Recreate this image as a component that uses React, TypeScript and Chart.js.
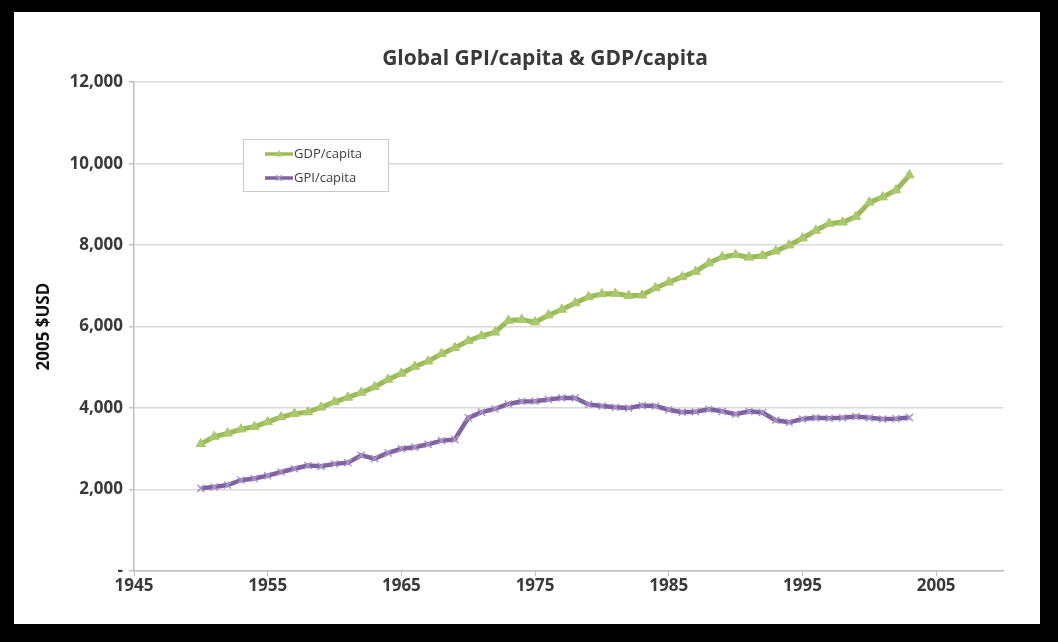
import React, { useEffect, useRef } from 'react';
import { Chart, registerables } from 'chart.js';

Chart.register(...registerables);

const years = [
  1950, 1951, 1952, 1953, 1954, 1955, 1956, 1957, 1958, 1959,
  1960, 1961, 1962, 1963, 1964, 1965, 1966, 1967, 1968, 1969,
  1970, 1971, 1972, 1973, 1974, 1975, 1976, 1977, 1978, 1979,
  1980, 1981, 1982, 1983, 1984, 1985, 1986, 1987, 1988, 1989,
  1990, 1991, 1992, 1993, 1994, 1995, 1996, 1997, 1998, 1999,
  2000, 2001, 2002, 2003,
];

const gdpPerCapita = [
  3120, 3300, 3380, 3480, 3540, 3660, 3780, 3860, 3900, 4020,
  4150, 4260, 4380, 4520, 4700, 4850, 5020, 5150, 5330, 5480,
  5650, 5770, 5860, 6150, 6170, 6110, 6280, 6420, 6580, 6730,
  6800, 6810, 6760, 6770, 6950, 7090, 7220, 7350, 7560, 7710,
  7760, 7700, 7740, 7850, 8000, 8170, 8360, 8530, 8560, 8700,
  9050, 9180, 9350, 9720,
];

const gpiPerCapita = [
  2030, 2060, 2110, 2230, 2270, 2340, 2430, 2510, 2590, 2570,
  2630, 2660, 2840, 2760, 2900, 3000, 3040, 3110, 3200, 3230,
  3760, 3900, 3980, 4100, 4160, 4170, 4210, 4250, 4250, 4090,
  4050, 4020, 4000, 4060, 4050, 3960, 3900, 3910, 3970, 3920,
  3850, 3920, 3890, 3700, 3650, 3730, 3760, 3750, 3760, 3790,
  3760, 3730, 3740, 3770,
];

const xTickValues = [1945, 1955, 1965, 1975, 1985, 1995, 2005];
const xMin = 1945;
const xMax = 2010;
const yMin = 0;
const yMax = 12000;
const yStep = 2000;

const seriesLabels = ['GDP/capita', 'GPI/capita'];
const chartTitle = 'Global GPI/capita & GDP/capita';
const yAxisTitle = '2005 $USD';

const FONT = "'Open Sans', 'Noto Sans', sans-serif";
const GREEN = '#9bbb59';
const PURPLE = '#7f62a0';

const titleShiftPlugin = {
  id: 'titleShift',
  afterLayout(chart: any) {
    const t = chart.titleBlock;
    if (t) {
      const desiredCenter = 531;
      const cur = (t.left + t.right) / 2;
      const d = desiredCenter - cur;
      t.left += d;
      t.right += d;
    }
  },
};

function drawMarker(ctx: CanvasRenderingContext2D, style: string, x: number, y: number, r: number, color: string) {
  ctx.save();
  ctx.fillStyle = color;
  ctx.strokeStyle = color;
  ctx.lineWidth = 1.5;
  if (style === 'triangle') {
    ctx.beginPath();
    ctx.moveTo(x, y - r);
    ctx.lineTo(x + r * 0.9, y + r * 0.6);
    ctx.lineTo(x - r * 0.9, y + r * 0.6);
    ctx.closePath();
    ctx.fill();
  } else {
    ctx.beginPath();
    ctx.moveTo(x - r * 0.7, y - r * 0.7);
    ctx.lineTo(x + r * 0.7, y + r * 0.7);
    ctx.moveTo(x + r * 0.7, y - r * 0.7);
    ctx.lineTo(x - r * 0.7, y + r * 0.7);
    ctx.stroke();
  }
  ctx.restore();
}

const customLegendPlugin = {
  id: 'customLegend',
  afterDraw(chart: any) {
    const ctx: CanvasRenderingContext2D = chart.ctx;
    const box = { left: 229, top: 127, width: 145, height: 52 };
    ctx.save();
    ctx.fillStyle = '#ffffff';
    ctx.fillRect(box.left, box.top, box.width, box.height);
    ctx.strokeStyle = '#c8c8c8';
    ctx.lineWidth = 1;
    ctx.strokeRect(box.left + 0.5, box.top + 0.5, box.width, box.height);
    chart.data.datasets.forEach((ds: any, i: number) => {
      const y = box.top + 15 + i * 24;
      const x0 = box.left + 22;
      const x1 = box.left + 50;
      ctx.strokeStyle = ds.borderColor;
      ctx.lineWidth = 3.5;
      ctx.beginPath();
      ctx.moveTo(x0, y);
      ctx.lineTo(x1, y);
      ctx.stroke();
      drawMarker(ctx, ds.pointStyle, (x0 + x1) / 2, y, 4, ds.pointBorderColor);
      ctx.fillStyle = '#404040';
      ctx.font = `13px ${FONT}`;
      ctx.textBaseline = 'middle';
      ctx.textAlign = 'left';
      ctx.fillText(ds.label, x1 + 1, y);
    });
    ctx.restore();
  },
};

export default function App() {
  const canvasRef = useRef<HTMLCanvasElement | null>(null);

  useEffect(() => {
    if (!canvasRef.current) return;
    const chart = new Chart(canvasRef.current, {
      type: 'line',
      data: {
        datasets: [
          {
            label: seriesLabels[0],
            data: years.map((yr, i) => ({ x: yr, y: gdpPerCapita[i] })),
            borderColor: GREEN,
            backgroundColor: GREEN,
            borderWidth: 5,
            pointStyle: 'triangle',
            pointRadius: 5.5,
            pointBorderWidth: 1,
            pointBackgroundColor: '#aac86c',
            pointBorderColor: '#aac86c',
            tension: 0,
          },
          {
            label: seriesLabels[1],
            data: years.map((yr, i) => ({ x: yr, y: gpiPerCapita[i] })),
            borderColor: PURPLE,
            backgroundColor: PURPLE,
            borderWidth: 4.5,
            pointStyle: 'crossRot',
            pointRadius: 5,
            pointBorderWidth: 1.5,
            pointBackgroundColor: '#a995c8',
            pointBorderColor: '#a995c8',
            tension: 0,
          },
        ],
      },
      options: {
        responsive: false,
        animation: false,
        layout: { padding: { left: 0, right: 37, top: 0, bottom: 0 } },
        plugins: {
          legend: { display: false },
          tooltip: { enabled: false },
          title: {
            display: true,
            text: chartTitle,
            color: '#3a3a3a',
            font: { family: FONT, size: 21, weight: 'bold' },
            padding: { top: 34, bottom: 11 },
          },
        },
        scales: {
          x: {
            type: 'linear',
            min: xMin,
            max: xMax,
            afterBuildTicks: (scale: any) => {
              scale.ticks = xTickValues.map((v) => ({ value: v }));
            },
            afterFit: (scale: any) => {
              scale.height = 53;
            },
            grid: {
              drawOnChartArea: false,
              drawTicks: true,
              tickLength: 5,
              color: '#bfbfbf',
            },
            border: { display: true, color: '#bfbfbf', width: 1.5 },
            ticks: {
              color: '#3a3a3a',
              font: { family: FONT, size: 17, weight: 'bold' },
              padding: 0,
              maxRotation: 0,
              autoSkip: false,
              callback: (v: any) => String(v),
            },
          },
          y: {
            type: 'linear',
            min: yMin,
            max: yMax,
            afterFit: (scale: any) => {
              scale.width = 120;
            },
            grid: {
              color: '#d9d9d9',
              lineWidth: 1.5,
              drawTicks: true,
              tickLength: 5,
              tickColor: '#bfbfbf',
            },
            border: { display: true, color: '#bfbfbf', width: 1.5 },
            ticks: {
              stepSize: yStep,
              color: '#3a3a3a',
              font: { family: FONT, size: 17, weight: 'bold' },
              padding: 6,
              callback: (v: any) => (Number(v) === 0 ? '-' : Number(v).toLocaleString('en-US')),
            },
            title: {
              display: true,
              text: yAxisTitle,
              color: '#111111',
              font: { family: FONT, size: 17, weight: 'bold' },
              padding: { top: 20, bottom: 0 },
            },
          },
        },
      },
      plugins: [titleShiftPlugin, customLegendPlugin],
    } as any);
    return () => chart.destroy();
  }, []);

  return (
    <div style={{ position: 'fixed', left: 0, top: 0, width: 1058, height: 642, background: '#000000' }}>
      <div style={{ position: 'absolute', left: 14, top: 12, width: 1026, height: 612, background: '#ffffff' }}>
        <canvas ref={canvasRef} width={1026} height={612} style={{ display: 'block', width: 1026, height: 612 }} />
      </div>
    </div>
  );
}
